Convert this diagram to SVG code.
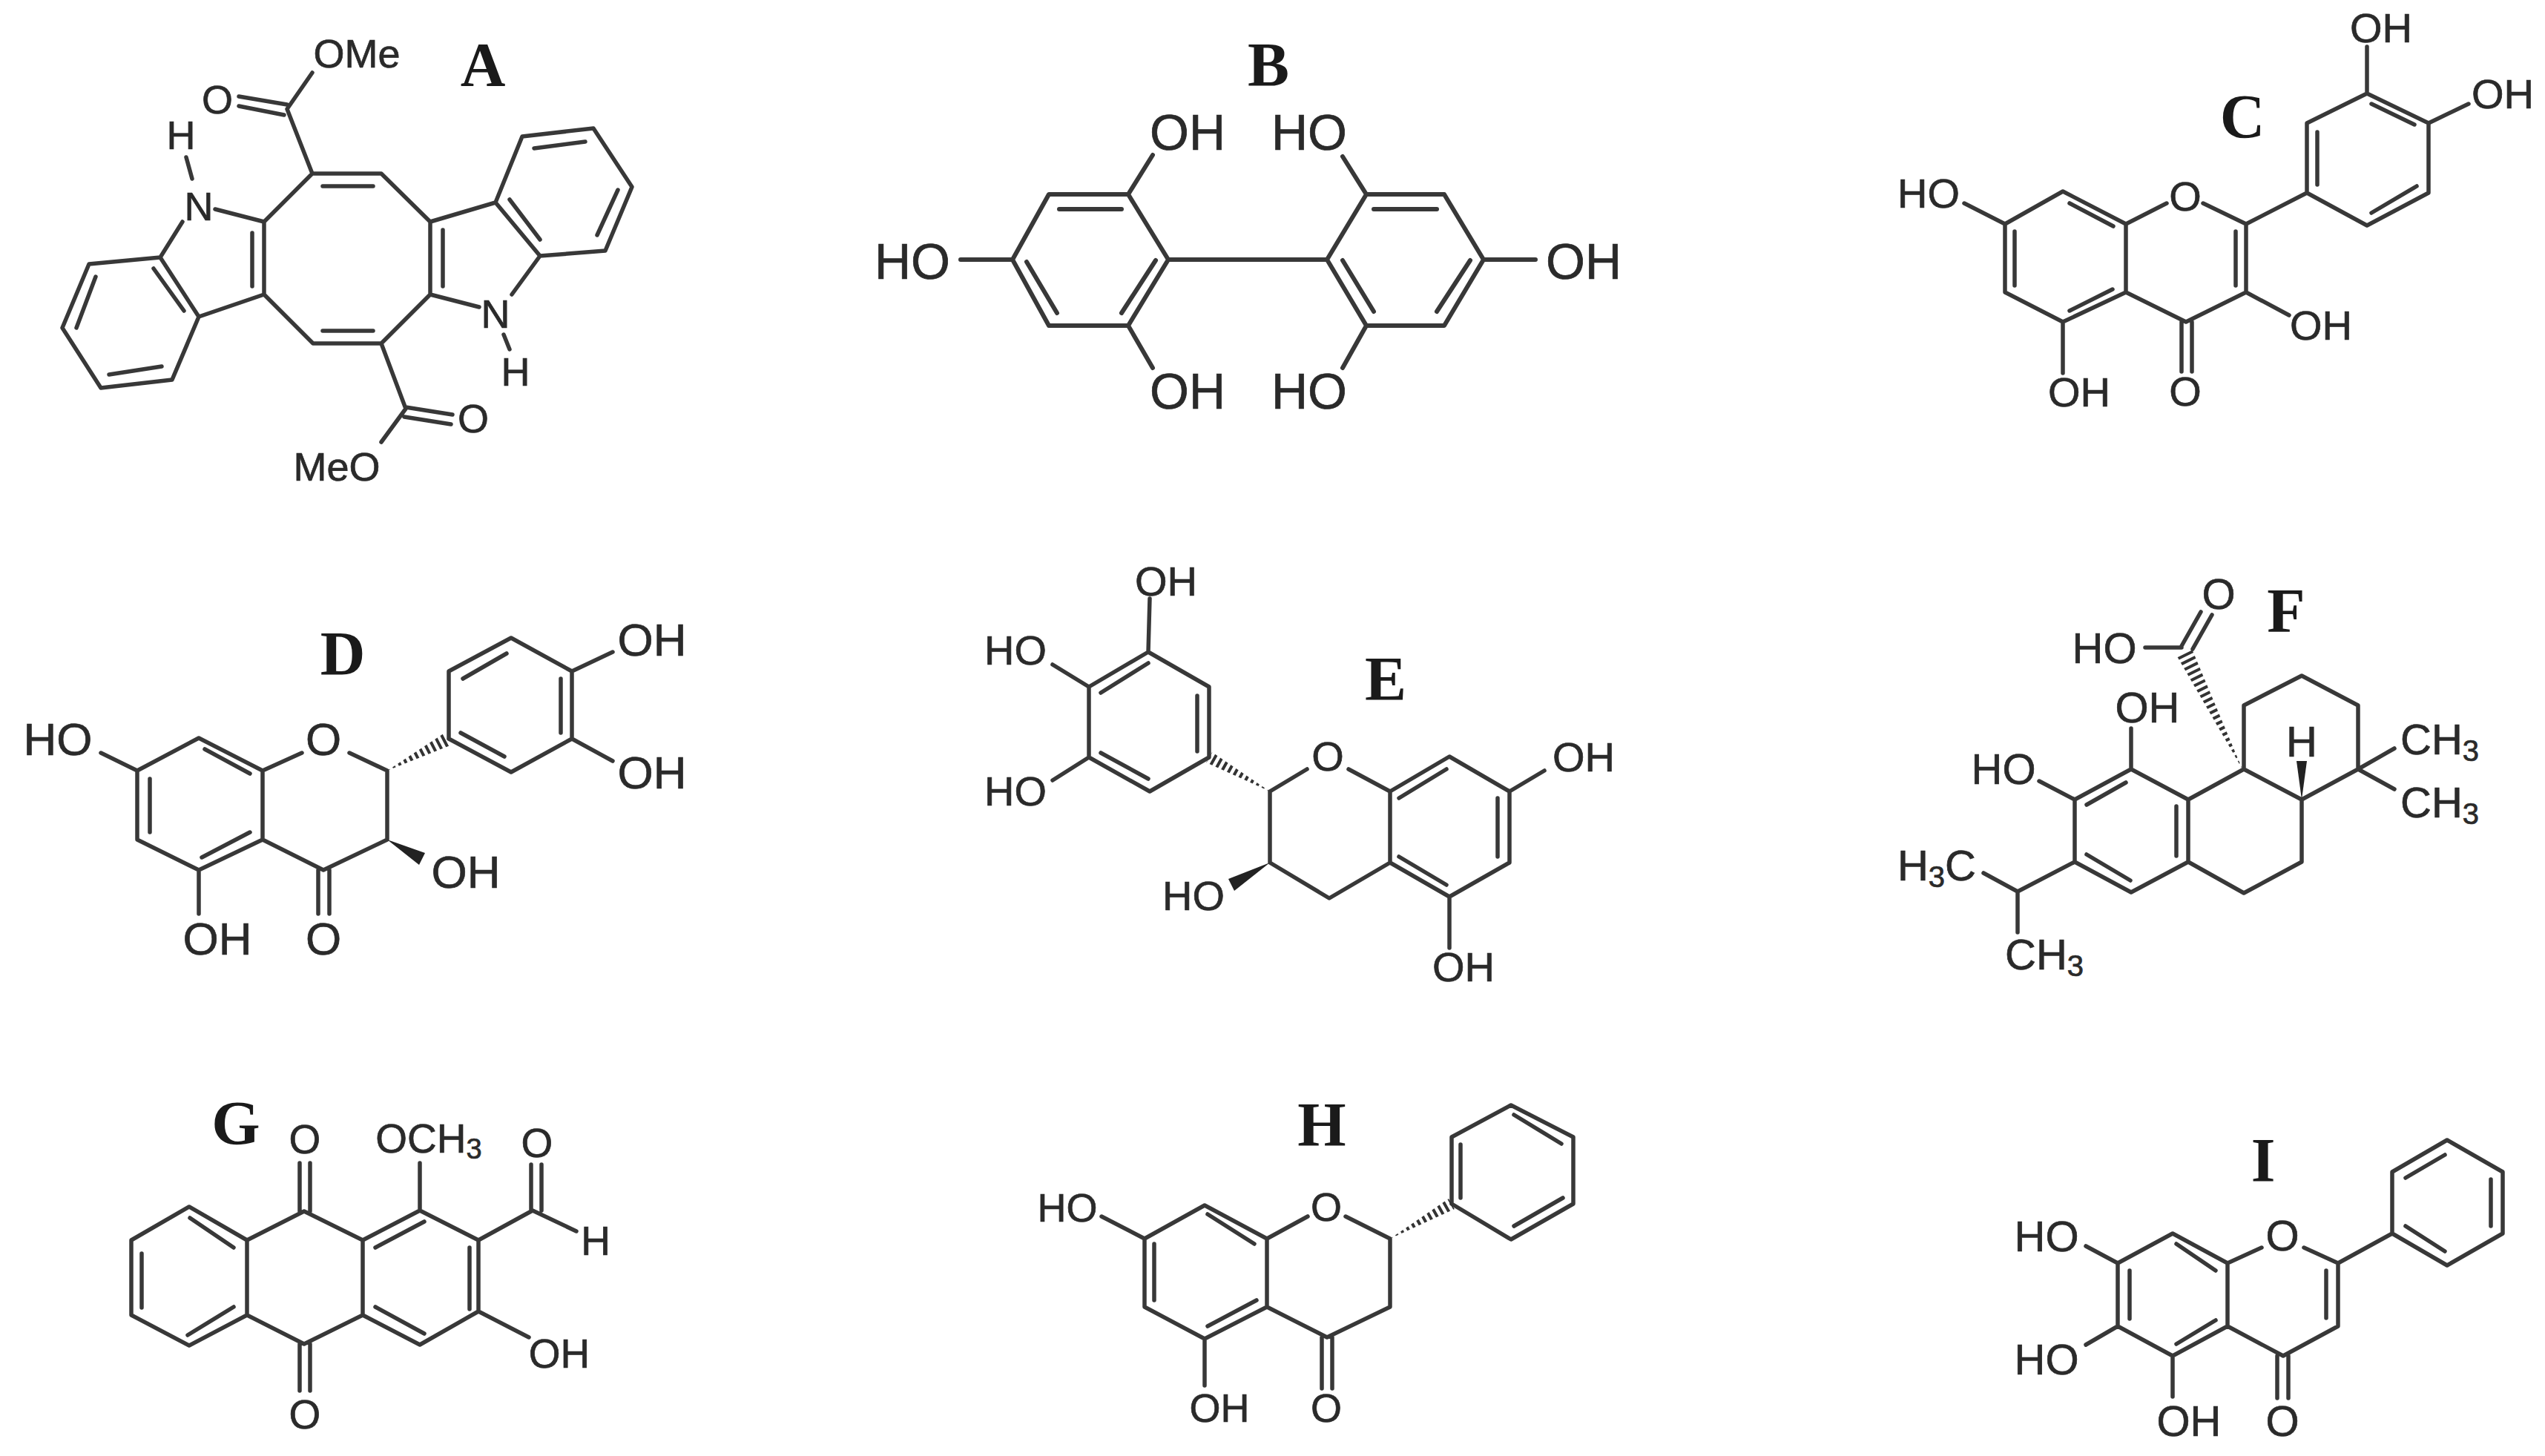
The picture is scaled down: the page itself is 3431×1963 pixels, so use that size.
<svg xmlns="http://www.w3.org/2000/svg" width="3431" height="1963" viewBox="0 0 3431 1963">
<style>
.b{fill:none;stroke:#383838;stroke-width:5.5;stroke-linecap:round;stroke-linejoin:round}
.h{fill:none;stroke:#333;stroke-dasharray:4 4.5}
.w{fill:#222}
text{font-family:"Liberation Sans",Arial,sans-serif;fill:#2a2a2a;stroke:#2a2a2a;stroke-width:.7;text-anchor:middle}
.l{font-family:"Liberation Serif","Times New Roman",serif;font-weight:700;font-size:84px;fill:#1a1a1a;stroke:none}
#A text{font-size:54px}#B text{font-size:68px}#C text{font-size:56px}#D text{font-size:62px}#E text{font-size:56px}#F text{font-size:58px}#G text{font-size:55px}#H text{font-size:54px}#I text{font-size:58px}
#A .l,#B .l,#C .l,#D .l,#E .l,#F .l,#G .l,#H .l,#I .l{font-size:84px}
</style>
<defs>
<clipPath id="hd"><polygon points="522,1039 612,1003 598,989"/></clipPath>
<clipPath id="he"><polygon points="1712,1067 1634,1014 1626,1028"/></clipPath>
<clipPath id="hf"><polygon points="3023,1037 2955,875 2935,885"/></clipPath>
<clipPath id="hh"><polygon points="1874,1670 1961,1630 1953,1616"/></clipPath>
</defs>
<rect width="3431" height="1963" fill="#fff"/>

<g id="A">
<path class="b" d="M421,234L514,234L580,299L580,397L514,463L422,463L356,397L356,299ZM435,251L503,251M435,446L503,446M340,314L340,386M597,310L597,386M580,299L668,273L728,345L690,397M668,273L704,184L800,173L852,252L816,338L728,345M646,414L580,397M687,269L728,323M720,200L789,191M833,256L805,317M679,451L687,471M514,463L547,551L514,596M547,549L610,559M545,562L608,572M421,234L387,147L421,98M387,141L322,130M383,155L322,143M259,241L251,212M290,282L356,299M246,299L216,347L268,427L356,397M207,362L248,419M216,347L120,356L84,442L136,523L232,512L268,427M129,373L103,442M147,505L218,494"/>
<text x="668" y="442">N</text><text x="695" y="520">H</text><text x="638" y="583">O</text><text x="454" y="648">MeO</text><text x="481" y="91">OMe</text><text x="293" y="153">O</text><text x="268" y="297">N</text><text x="244" y="201">H</text>
<text class="l" x="651" y="116">A</text>
</g>

<g id="B">
<path class="b" style="stroke-width:6" d="M1365,350L1414,262L1521,262L1575,350L1521,439L1414,439ZM1428,282L1512,282M1384,353L1425,422M1558,351L1512,422M1575,350L1789,350M1789,350L1842,262L1947,262L2000,350L1947,439L1842,439ZM1852,282L1937,282M1810,351L1852,420M1982,351L1937,420M1521,262L1554,209M1521,439L1554,496M1842,262L1810,211M1842,439L1810,496M1365,350L1295,350M2000,350L2070,350"/>
<text x="1601" y="202">OH</text><text x="1765" y="202">HO</text><text x="1230" y="376">HO</text><text x="2135" y="376">OH</text><text x="1601" y="551">OH</text><text x="1765" y="551">HO</text>
<text class="l" x="1710" y="116">B</text>
</g>

<g id="C">
<path class="b" d="M2703,302L2781,258L2866,302L2921,274M2970,274L3028,302L3028,394L2947,434L2866,394L2866,302M2866,394L2781,434L2703,394L2703,302M3028,302L3110,260L3110,166L3191,126L3274,166L3274,260L3191,304L3110,260M2790,274L2849,305M2716,312L2716,385M2848,390L2790,419M3014,312L3014,385M3124,178L3124,249M3197,140L3255,168M3258,251L3197,287M2941,434L2941,501M2955,434L2955,501M2781,434L2781,503M3028,394L3086,425M2703,302L2648,274M3191,126L3191,63M3274,166L3328,140"/>
<text x="2946" y="284">O</text><text x="2946" y="547">O</text><text x="2803" y="548">OH</text><text x="3129" y="458">OH</text><text x="2600" y="280">HO</text><text x="3210" y="57">OH</text><text x="3374" y="146">OH</text>
<text class="l" x="3023" y="186">C</text>
</g>

<g id="D">
<path class="b" d="M185,1039L268,995L354,1039L407,1015M471,1015L522,1039L522,1132L436,1173L354,1132L354,1039M354,1132L268,1173L185,1132L185,1039M605,996L605,905L689,860L771,905L771,996L689,1041L605,996M276,1010L337,1043M202,1050L202,1122M337,1122L272,1156M621,988L680,1020M624,915L683,881M756,915L756,988M429,1173L429,1232M444,1173L444,1232M268,1173L268,1232M185,1039L136,1015M771,905L826,879M771,996L826,1026"/>
<line class="h" style="stroke-width:22" x1="522" y1="1039" x2="605" y2="996" clip-path="url(#hd)"/>
<polygon class="w" points="522,1132 573,1150 565,1166"/>
<text x="436" y="1018">O</text><text x="628" y="1197">OH</text><text x="436" y="1287">O</text><text x="293" y="1287">OH</text><text x="78" y="1018">HO</text><text x="879" y="884">OH</text><text x="879" y="1063">OH</text>
<text class="l" x="462" y="910">D</text>
</g>

<g id="E">
<path class="b" d="M1548,879L1630,926L1630,1021L1550,1067L1468,1021L1468,926ZM1548,894L1484,934M1614,938L1614,1013M1548,1050L1484,1015M1712,1067L1712,1163L1792,1211L1874,1163L1874,1067M1712,1067L1762,1037M1818,1037L1874,1067L1954,1020L2035,1067L2035,1163L1954,1209L1874,1163M1886,1076L1950,1037M2019,1076L2019,1155M1950,1193L1886,1155M1548,879L1550,807M1468,926L1419,896M1468,1021L1419,1052M2035,1067L2082,1039M1954,1209L1954,1278"/>
<line class="h" style="stroke-width:22" x1="1712" y1="1067" x2="1630" y2="1021" clip-path="url(#he)"/>
<polygon class="w" points="1712,1163 1664,1201 1656,1185"/>
<text x="1790" y="1039">O</text><text x="1609" y="1227">HO</text><text x="1572" y="803">OH</text><text x="1369" y="896">HO</text><text x="1369" y="1086">HO</text><text x="2135" y="1040">OH</text><text x="1973" y="1323">OH</text>
<text class="l" x="1868" y="944">E</text>
</g>

<g id="F">
<path class="b" d="M2873,1037L2950,1078L2950,1162L2873,1203L2797,1162L2797,1078ZM2866,1055L2813,1085M2934,1087L2934,1154M2872,1187L2813,1152M2950,1078L3025,1037L3103,1078L3103,1162L3025,1204L2950,1162M3025,1037L3025,951L3103,911L3179,951L3179,1037L3103,1078M2941,873L2892,873M2941,871L2967,825M2956,875L2982,829M2873,1037L2873,982M2797,1078L2749,1053M3179,1037L3228,1009M3179,1037L3228,1064M2797,1162L2720,1202L2674,1177M2720,1202L2720,1257"/>
<line class="h" style="stroke-width:26" x1="3023" y1="1037" x2="2945" y2="880" clip-path="url(#hf)"/>
<polygon class="w" points="3103,1078 3096,1026 3110,1026"/>
<text x="3103" y="1020">H</text><text x="2837" y="894">HO</text><text x="2991" y="821">O</text><text x="2895" y="974">OH</text><text x="2701" y="1057">HO</text>
<text style="text-anchor:start" x="3236" y="1017">CH<tspan font-size="40" dy="9">3</tspan></text>
<text style="text-anchor:start" x="3236" y="1102">CH<tspan font-size="40" dy="9">3</tspan></text>
<text style="text-anchor:end" x="2664" y="1187">H<tspan font-size="40" dy="9">3</tspan><tspan dy="-9">C</tspan></text>
<text style="text-anchor:start" x="2703" y="1307">CH<tspan font-size="40" dy="9">3</tspan></text>
<text class="l" x="3082" y="852">F</text>
</g>

<g id="G">
<path class="b" d="M255,1627L333,1672L333,1773L255,1814L177,1773L177,1672ZM256,1642L315,1682M191,1690L191,1763M315,1762L253,1800M333,1672L410,1633L489,1672L489,1773L410,1812L333,1773M489,1672L566,1632L645,1672L645,1768L566,1813L489,1773M506,1682L572,1647M633,1682L633,1765M506,1762L572,1798M404,1633L404,1568M418,1633L418,1568M404,1812L404,1875M418,1812L418,1875M566,1632L566,1568M645,1672L718,1632L777,1660M716,1632L716,1570M730,1632L730,1570M645,1768L713,1803"/>
<text x="411" y="1555">O</text><text x="411" y="1926">O</text>
<text x="578" y="1554">OCH<tspan font-size="38" dy="8">3</tspan></text>
<text x="724" y="1560">O</text><text x="803" y="1692">H</text><text x="754" y="1844">OH</text>
<text class="l" x="318" y="1543">G</text>
</g>

<g id="H">
<path class="b" d="M1543,1670L1624,1625L1708,1670L1763,1640M1814,1640L1874,1670L1874,1762L1789,1803L1708,1762L1708,1670M1708,1762L1624,1805L1543,1762L1543,1670M1628,1637L1691,1677M1556,1677L1556,1753M1694,1753L1628,1788M1957,1623L1957,1533L2037,1490L2121,1533L2121,1623L2037,1671L1957,1623M1969,1543L1969,1615M2041,1503L2105,1542M2107,1615L2041,1653M1543,1670L1485,1640M1624,1805L1624,1868M1782,1803L1782,1872M1796,1803L1796,1872"/>
<line class="h" style="stroke-width:22" x1="1874" y1="1670" x2="1957" y2="1623" clip-path="url(#hh)"/>
<text x="1788" y="1646">O</text><text x="1439" y="1647">HO</text><text x="1644" y="1917">OH</text><text x="1788" y="1917">O</text>
<text class="l" x="1782" y="1545">H</text>
</g>

<g id="I">
<path class="b" d="M2855,1703L2929,1663L3003,1703L3049,1682M3106,1682L3152,1703L3152,1788L3078,1828L3003,1788L3003,1703M3003,1788L2929,1828L2855,1788L2855,1703M2934,1677L2987,1713M2871,1713L2871,1778M2987,1780L2934,1812M3136,1713L3136,1777M3152,1703L3225,1663L3225,1580L3299,1537L3374,1580L3374,1663L3299,1706L3225,1663M3243,1653L3296,1687M3243,1588L3296,1557M3358,1590L3358,1653M2855,1703L2812,1680M2855,1788L2812,1813M2929,1828L2929,1883M3070,1828L3070,1885M3085,1828L3085,1885"/>
<text x="3077" y="1686">O</text><text x="2759" y="1687">HO</text><text x="2759" y="1853">HO</text><text x="2951" y="1936">OH</text><text x="3077" y="1936">O</text>
<text class="l" x="3051" y="1593">I</text>
</g>
</svg>
